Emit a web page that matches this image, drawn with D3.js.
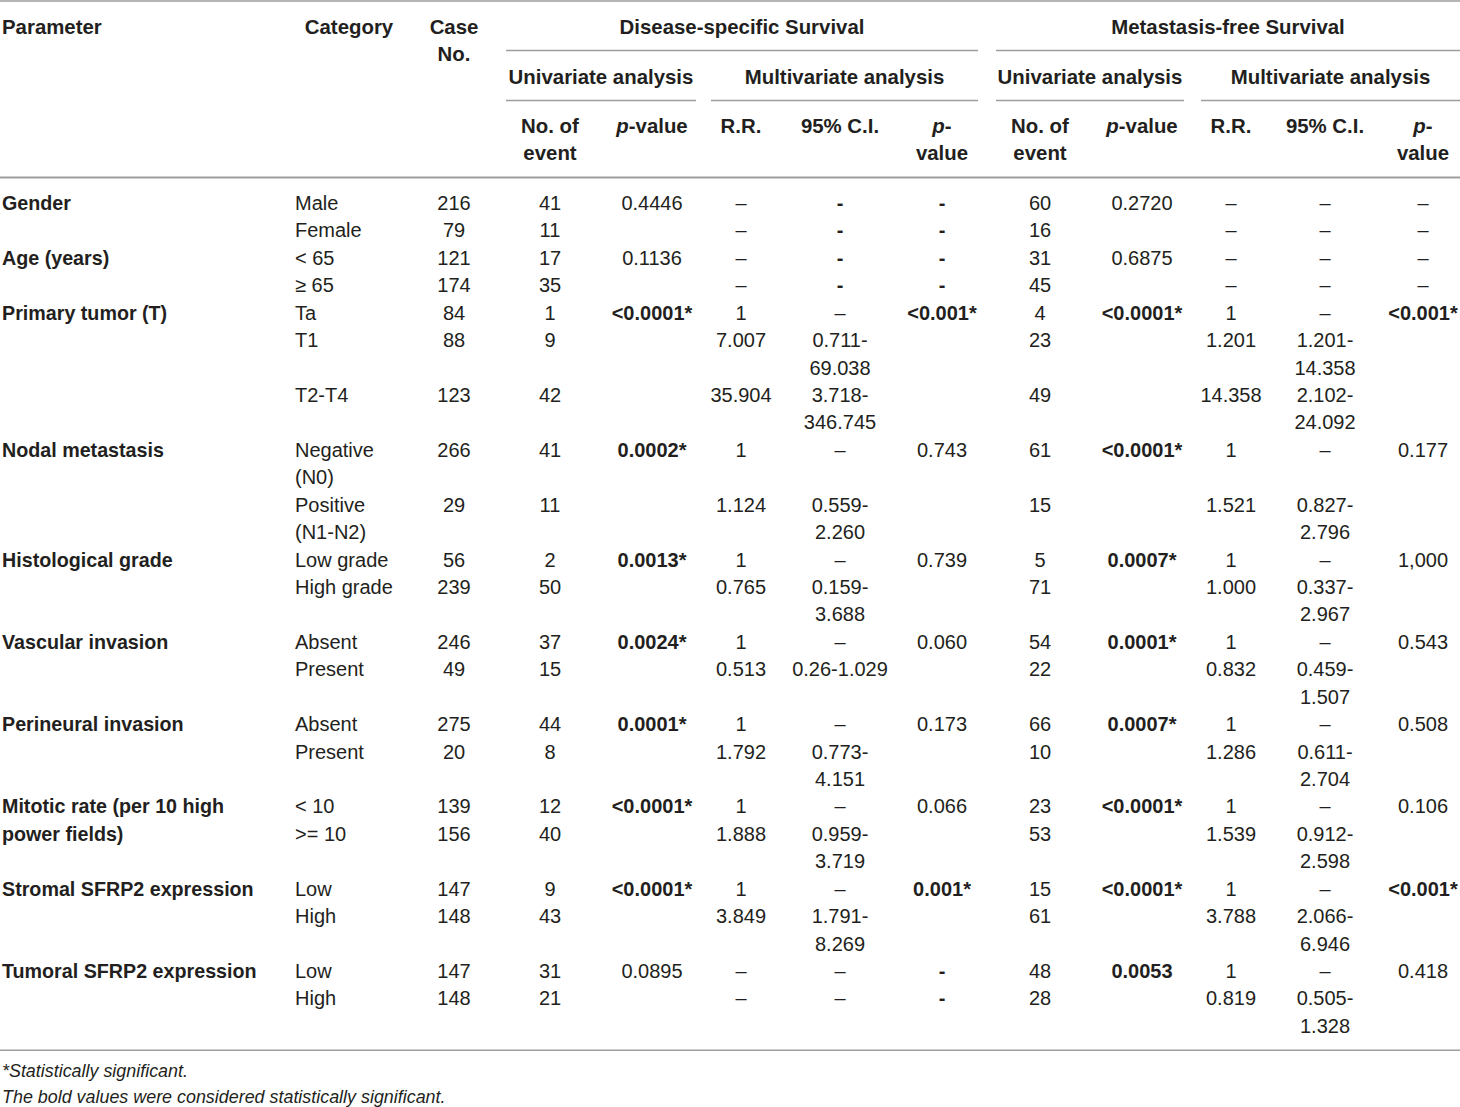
<!DOCTYPE html>
<html>
<head>
<meta charset="utf-8">
<script src="https://cdn.jsdelivr.net/npm/d3@7"></script>
<style>
  body { margin: 0; background: #fff; }
  svg text { font-family: "Liberation Sans", Arial, Helvetica, sans-serif; font-size: 20px; fill: #231f20; }
</style>
</head>
<body>
<div class="canvas"></div>
<script>
// table values, one entry per category row (21 rows)
const parameters = ["Gender", "Age (years)", "Primary tumor (T)", "Nodal metastasis", "Histological grade",
  "Vascular invasion", "Perineural invasion", "Mitotic rate (per 10 high\npower fields)",
  "Stromal SFRP2 expression", "Tumoral SFRP2 expression"];
const rowsPerParameter = [2, 2, 3, 2, 2, 2, 2, 2, 2, 2];
const categories = ["Male", "Female", "< 65", "\u2265 65", "Ta", "T1", "T2-T4", "Negative\n(N0)", "Positive\n(N1-N2)",
  "Low grade", "High grade", "Absent", "Present", "Absent", "Present", "< 10", ">= 10", "Low", "High", "Low", "High"];
const caseNo = [216, 79, 121, 174, 84, 88, 123, 266, 29, 56, 239, 246, 49, 275, 20, 139, 156, 147, 148, 147, 148];

// disease-specific survival
const dssEvents = [41, 11, 17, 35, 1, 9, 42, 41, 11, 2, 50, 37, 15, 44, 8, 12, 40, 9, 43, 31, 21];
const dssUniP = ["0.4446", "", "0.1136", "", "<0.0001*", "", "", "0.0002*", "", "0.0013*", "", "0.0024*", "",
  "0.0001*", "", "<0.0001*", "", "<0.0001*", "", "0.0895", ""];
const dssRR = ["\u2013", "\u2013", "\u2013", "\u2013", "1", "7.007", "35.904", "1", "1.124", "1", "0.765", "1", "0.513",
  "1", "1.792", "1", "1.888", "1", "3.849", "\u2013", "\u2013"];
const dssCI = ["-", "-", "-", "-", "\u2013", "0.711-\n69.038", "3.718-\n346.745", "\u2013", "0.559-\n2.260", "\u2013",
  "0.159-\n3.688", "\u2013", "0.26-1.029", "\u2013", "0.773-\n4.151", "\u2013", "0.959-\n3.719", "\u2013", "1.791-\n8.269",
  "\u2013", "\u2013"];
const dssMultiP = ["-", "-", "-", "-", "<0.001*", "", "", "0.743", "", "0.739", "", "0.060", "", "0.173", "",
  "0.066", "", "0.001*", "", "-", "-"];

// metastasis-free survival
const mfsEvents = [60, 16, 31, 45, 4, 23, 49, 61, 15, 5, 71, 54, 22, 66, 10, 23, 53, 15, 61, 48, 28];
const mfsUniP = ["0.2720", "", "0.6875", "", "<0.0001*", "", "", "<0.0001*", "", "0.0007*", "", "0.0001*", "",
  "0.0007*", "", "<0.0001*", "", "<0.0001*", "", "0.0053", ""];
const mfsRR = ["\u2013", "\u2013", "\u2013", "\u2013", "1", "1.201", "14.358", "1", "1.521", "1", "1.000", "1", "0.832",
  "1", "1.286", "1", "1.539", "1", "3.788", "1", "0.819"];
const mfsCI = ["\u2013", "\u2013", "\u2013", "\u2013", "\u2013", "1.201-\n14.358", "2.102-\n24.092", "\u2013",
  "0.827-\n2.796", "\u2013", "0.337-\n2.967", "\u2013", "0.459-\n1.507", "\u2013", "0.611-\n2.704", "\u2013",
  "0.912-\n2.598", "\u2013", "2.066-\n6.946", "\u2013", "0.505-\n1.328"];
const mfsMultiP = ["\u2013", "\u2013", "\u2013", "\u2013", "<0.001*", "", "", "0.177", "", "1,000", "", "0.543", "",
  "0.508", "", "0.106", "", "<0.001*", "", "0.418", ""];

const footnotes = ["*Statistically significant.", "The bold values were considered statistically significant."];

// svg
const width = 1460, height = 1107;
const svg = d3.select(".canvas").append("svg")
  .attr("width", width)
  .attr("height", height);

const cols = ["param", "cat", "caseNo", "dssEvt", "dssP", "dssRR", "dssCI", "dssMP",
  "mfsEvt", "mfsP", "mfsRR", "mfsCI", "mfsMP"];
const x = d3.scaleOrdinal()
  .domain(cols)
  .range([2, 295, 454, 550, 652, 741, 840, 942, 1040, 1142, 1231, 1325, 1423]);

// one text line = 27.43px
const y = d3.scaleLinear().domain([0, 1]).range([210, 237.43]);

const ruleColor = "#9d9d9d";
function rule(x1, x2, yy, w) {
  svg.append("line")
    .attr("x1", x1).attr("x2", x2)
    .attr("y1", yy).attr("y2", yy)
    .attr("stroke", ruleColor)
    .attr("stroke-width", w || 1.5);
}

// header
const head = svg.append("g");
function headText(t, xx, yy, anchor) {
  return head.append("text")
    .attr("x", xx).attr("y", yy)
    .attr("text-anchor", anchor || "middle")
    .attr("font-weight", "bold")
    .style("font-size", "20.4px")
    .text(t);
}
headText("Parameter", x("param"), 34, "start");
headText("Category", 349, 34);
headText("Case", x("caseNo"), 34);
headText("No.", x("caseNo"), 61);

const groups = [
  { label: "Disease-specific Survival", x1: 506, x2: 978, row: 0 },
  { label: "Metastasis-free Survival", x1: 996, x2: 1460, row: 0 },
  { label: "Univariate analysis", x1: 506, x2: 696, row: 1 },
  { label: "Multivariate analysis", x1: 711, x2: 978, row: 1 },
  { label: "Univariate analysis", x1: 996, x2: 1184, row: 1 },
  { label: "Multivariate analysis", x1: 1201, x2: 1460, row: 1 }
];
groups.forEach(g => {
  headText(g.label, (g.x1 + g.x2) / 2, g.row === 0 ? 34 : 84);
  rule(g.x1, g.x2, g.row === 0 ? 50.5 : 100.5);
});

function pHead(t, key, yy) {
  const el = head.append("text")
    .attr("x", x(key)).attr("y", yy)
    .attr("text-anchor", "middle")
    .attr("font-weight", "bold")
    .style("font-size", "20.4px");
  el.append("tspan").attr("font-style", "italic").text("p");
  el.append("tspan").text(t);
}
["dss", "mfs"].forEach(p => {
  headText("No. of", x(p + "Evt"), 133);
  headText("event", x(p + "Evt"), 160);
  pHead("-value", p + "P", 133);
  headText("R.R.", x(p + "RR"), 133);
  headText("95% C.I.", x(p + "CI"), 133);
  pHead("-", p + "MP", 133);
  headText("value", x(p + "MP"), 160);
});

rule(0, width, 1);
rule(0, width, 177.5, 2);

// body
const columns = {
  cat: categories, caseNo: caseNo,
  dssEvt: dssEvents, dssP: dssUniP, dssRR: dssRR, dssCI: dssCI, dssMP: dssMultiP,
  mfsEvt: mfsEvents, mfsP: mfsUniP, mfsRR: mfsRR, mfsCI: mfsCI, mfsMP: mfsMultiP
};
const pCols = ["dssP", "dssMP", "mfsP", "mfsMP"];
const nLines = v => String(v).split("\n").length;

// first text line of each category row
const rowLines = categories.map((c, i) => d3.max(Object.values(columns), arr => nLines(arr[i])));
const rowStart = rowLines.map((n, i) => d3.sum(rowLines.slice(0, i)));

const cells = [];
Object.keys(columns).forEach(key => {
  columns[key].forEach((v, i) => {
    const s = String(v);
    if (s === "") return;
    let bold = s === "-";
    if (pCols.includes(key)) {
      const num = parseFloat(s.replace("<", ""));
      if (!isNaN(num) && num < 0.05) bold = true;
    }
    s.split("\n").forEach((ln, k) => cells.push({ key, text: ln, line: rowStart[i] + k, bold }));
  });
});

// parameter names on the first line of their first row
let r0 = 0;
parameters.forEach((p, i) => {
  p.split("\n").forEach((ln, k) => cells.push({ key: "param", text: ln, line: rowStart[r0] + k, bold: true }));
  r0 += rowsPerParameter[i];
});

svg.append("g").selectAll("text")
  .data(cells)
  .enter().append("text")
  .attr("x", d => x(d.key))
  .attr("y", d => y(d.line))
  .attr("text-anchor", d => (d.key === "param" || d.key === "cat") ? "start" : "middle")
  .attr("font-weight", d => d.bold ? "bold" : "normal")
  .style("font-size", d => d.key === "param" ? "19.7px" : null)
  .text(d => d.text);

const totalLines = d3.sum(rowLines);
rule(0, width, y(totalLines) - 10);

// footnotes
svg.append("g").selectAll("text")
  .data(footnotes)
  .enter().append("text")
  .attr("x", 2)
  .attr("y", (d, i) => 1077 + i * 26)
  .attr("font-style", "italic")
  .style("font-size", "17.9px")
  .text(d => d);
</script>
</body>
</html>
